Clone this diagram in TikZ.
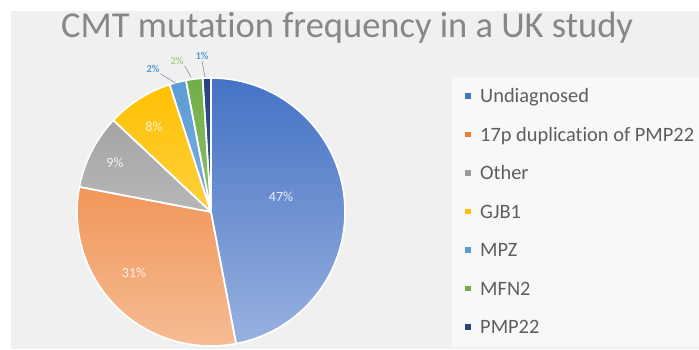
\documentclass[tikz,border=0pt]{standalone}
\usepackage{fontspec}
\setmainfont{Carlito}[Ligatures=NoCommon]
\usetikzlibrary{calc}
\definecolor{bggray}{HTML}{F0F0F0}
\definecolor{legbg}{HTML}{F8F8F8}
\definecolor{titlegray}{HTML}{878787}
\definecolor{leggray}{HTML}{5E5E5E}
\definecolor{cA}{HTML}{4472C4}\definecolor{cAb}{HTML}{9AB2E0}
\definecolor{cB}{HTML}{ED7D31}\definecolor{cBb}{HTML}{F6BC94}
\definecolor{cC}{HTML}{9C9C9C}\definecolor{cCb}{HTML}{D2D2D2}
\definecolor{cD}{HTML}{FFC000}\definecolor{cDb}{HTML}{FFE07A}
\definecolor{cE}{HTML}{5B9BD5}\definecolor{cEb}{HTML}{9DC3E6}
\definecolor{cF}{HTML}{70AD47}\definecolor{cFb}{HTML}{A9D18E}
\definecolor{cG}{HTML}{264478}\definecolor{cGb}{HTML}{4A6CA8}
\definecolor{leader}{HTML}{8A9BB8}
\tikzset{
  pctin/.style={text=white,opacity=0.85,font=\fontsize{14}{14}\selectfont},
  pctout/.style={font=\fontsize{10.5}{10.5}\selectfont\bfseries,inner sep=1pt},
  legtext/.style={anchor=base west,text=leggray,font=\fontsize{20.4}{20.4}\selectfont,inner sep=0pt},
  legmark/.style={minimum size=5.5pt,inner sep=0pt},
  sliceborder/.style={white,line width=1.6pt,line join=round},
  leaderline/.style={leader,line width=0.7pt}
}
\newcommand\pieslice[4]{%
  \begin{scope}
    \clip (pc) -- ++(#1:134) arc[start angle=#1,end angle=#2,radius=134] -- cycle;
    \shade[top color=#3,bottom color=#4] (76,2) rectangle (346,272);
  \end{scope}}
\newcommand\sliceedge[2]{%
  \draw[sliceborder] (pc) -- ++(#1:134) arc[start angle=#1,end angle=#2,radius=134] -- cycle;}
\begin{document}
\begin{tikzpicture}[x=1pt,y=1pt]
\useasboundingbox (0,0) rectangle (699,349);
\fill[white] (0,0) rectangle (699,349);
\fill[bggray] (11,0) rectangle (699,338);
\fill[legbg] (452,2) rectangle (699,272);
\node[anchor=base west,inner sep=0pt,text=titlegray,font=\fontsize{36.5}{36.5}\selectfont] (title) at (61,312) {CMT mutation frequency in a UK study};
\coordinate (pc) at (211,137);
\pieslice{90}{-79.2}{cA}{cAb}
\pieslice{-79.2}{-190.8}{cB}{cBb}
\pieslice{-190.8}{-223.2}{cC}{cCb}
\pieslice{-223.2}{-252}{cD}{cDb}
\pieslice{-252}{-259.2}{cE}{cEb}
\pieslice{-259.2}{-266.4}{cF}{cFb}
\pieslice{-266.4}{-270}{cG}{cGb}
\sliceedge{90}{-79.2}
\sliceedge{-79.2}{-190.8}
\sliceedge{-190.8}{-223.2}
\sliceedge{-223.2}{-252}
\sliceedge{-252}{-259.2}
\sliceedge{-259.2}{-266.4}
\sliceedge{-266.4}{-270}
\node[pctin] (p1) at (281,152) {47\%};
\node[pctin] (p2) at (134,76) {31\%};
\node[pctin] (p3) at (115,186) {9\%};
\node[pctin] (p4) at (154,222) {8\%};
\node[pctout,text=cE] (p5) at (153,280) {2\%};
\node[pctout,text=cFb] (p6) at (177,288) {2\%};
\node[pctout,text=cE] (p7) at (202,293) {1\%};
\coordinate (e5) at (177,265);
\coordinate (e6) at (191,272);
\coordinate (e7) at (205,272);
\draw[leaderline] (p5.south east) -- (e5);
\draw[leaderline] (p6.south east) -- (e6);
\draw[leaderline] (p7.south) -- (e7);
\foreach \i/\c/\t in {0/cA/Undiagnosed,1/cB/17p duplication of PMP22,2/cC/Other,3/cD/GJB1,4/cE/MPZ,5/cF/MFN2,6/cG/PMP22}{
  \node[legmark,fill=\c] (m\i) at (468,{349-96-38.5*\i}) {};
  \node[legtext] (l\i) at (480,{349-96-38.5*\i-6.5}) {\t};
}
\end{tikzpicture}
\end{document}
